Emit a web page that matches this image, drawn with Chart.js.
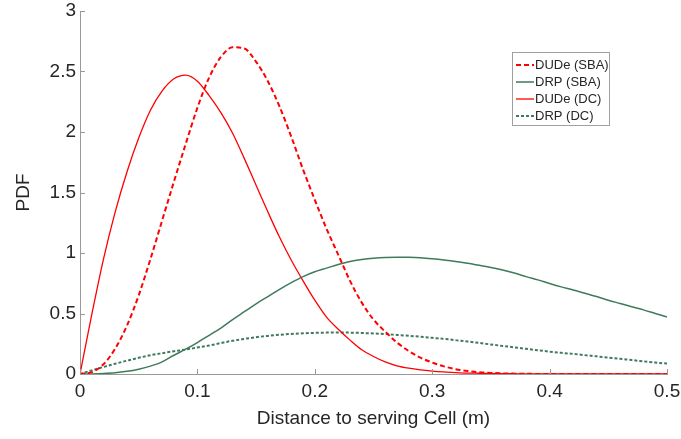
<!DOCTYPE html>
<html>
<head>
<meta charset="utf-8">
<script src="https://cdn.jsdelivr.net/npm/chart.js@4/dist/chart.umd.min.js"></script>
<style>
  html, body { margin: 0; padding: 0; background: #fff; }
  #wrap { width: 681px; height: 439px; }
</style>
</head>
<body>
<div id="wrap"><canvas id="myChart" width="681" height="439"></canvas></div>
<script>
// distance values (m)
const distances = [0, 0.01, 0.02, 0.03, 0.04, 0.05, 0.06, 0.07, 0.08, 0.09,
  0.10, 0.11, 0.12, 0.13, 0.14, 0.15, 0.16, 0.17, 0.18, 0.19,
  0.20, 0.21, 0.22, 0.23, 0.24, 0.25, 0.26, 0.27, 0.28, 0.29,
  0.30, 0.31, 0.32, 0.33, 0.34, 0.35, 0.36, 0.37, 0.38, 0.39,
  0.40, 0.41, 0.42, 0.43, 0.44, 0.45, 0.46, 0.47, 0.48, 0.49, 0.50];

const dudeSba = [0, 0.015, 0.08, 0.21, 0.40, 0.65, 0.95, 1.27, 1.59, 1.90,
  2.20, 2.45, 2.62, 2.70, 2.69, 2.58, 2.42, 2.21, 1.96, 1.69,
  1.44, 1.20, 0.985, 0.77, 0.59, 0.45, 0.35, 0.26, 0.19, 0.135,
  0.095, 0.063, 0.04, 0.025, 0.015, 0.009, 0.005, 0.003, 0.0015, 0.0007,
  0, 0, 0, 0, 0, 0, 0, 0, 0, 0, 0];

const drpSba = [0, 0.001, 0.004, 0.01, 0.022, 0.04, 0.065, 0.10, 0.155, 0.205,
  0.26, 0.32, 0.38, 0.45, 0.515, 0.58, 0.64, 0.70, 0.755, 0.805,
  0.845, 0.875, 0.905, 0.93, 0.946, 0.957, 0.963, 0.965, 0.964, 0.96,
  0.952, 0.942, 0.93, 0.915, 0.898, 0.88, 0.86, 0.835, 0.805, 0.778,
  0.748, 0.72, 0.695, 0.668, 0.64, 0.61, 0.583, 0.556, 0.53, 0.50, 0.471];

const dudeDc = [0, 0.49, 0.95, 1.34, 1.67, 1.95, 2.18, 2.34, 2.44, 2.47,
  2.42, 2.30, 2.16, 1.99, 1.78, 1.56, 1.34, 1.13, 0.94, 0.77,
  0.61, 0.47, 0.37, 0.28, 0.20, 0.145, 0.10, 0.068, 0.048, 0.034,
  0.024, 0.017, 0.012, 0.008, 0.006, 0.004, 0.003, 0.002, 0.001, 0.0005,
  0, 0, 0, 0, 0, 0, 0, 0, 0, 0, 0];

const drpDc = [0, 0.03, 0.058, 0.085, 0.11, 0.134, 0.155, 0.172, 0.188, 0.202,
  0.219, 0.235, 0.256, 0.275, 0.29, 0.304, 0.315, 0.324, 0.331, 0.336,
  0.340, 0.342, 0.343, 0.342, 0.339, 0.335, 0.330, 0.323, 0.316, 0.308,
  0.299, 0.290, 0.280, 0.269, 0.257, 0.244, 0.232, 0.220, 0.208, 0.196,
  0.185, 0.175, 0.166, 0.156, 0.146, 0.136, 0.126, 0.115, 0.105, 0.095, 0.086];

const seriesNames = ['DUDe (SBA)', 'DRP (SBA)', 'DUDe (DC)', 'DRP (DC)'];

const RED = '#ff0000';
const GREEN = '#3f7a5c';
const FONT = '"Liberation Sans", Arial, Helvetica, sans-serif';

function points(vals) {
    return distances.map((d, i) => ({ x: d, y: vals[i] }));
}

// inward tick marks like the original figure
const innerTicks = {
    id: 'innerTicks',
    afterDatasetsDraw(chart) {
        const ctx = chart.ctx;
        const xs = chart.scales.x;
        const ys = chart.scales.y;
        const a = chart.chartArea;
        ctx.save();
        ctx.strokeStyle = '#999';
        ctx.lineWidth = 1;
        ctx.beginPath();
        for (let t of xs.ticks) {
            const px = Math.round(xs.getPixelForValue(t.value)) + 0.5;
            ctx.moveTo(px, a.bottom);
            ctx.lineTo(px, a.bottom - 5);
        }
        for (let t of ys.ticks) {
            const py = Math.round(ys.getPixelForValue(t.value)) + 0.5;
            ctx.moveTo(a.left, py);
            ctx.lineTo(a.left + 5, py);
        }
        ctx.stroke();
        ctx.restore();
    }
};

// boxed legend inside the plot, upper right
const boxLegend = {
    id: 'boxLegend',
    afterDraw(chart) {
        const ctx = chart.ctx;
        const left = 512, top = 52, w = 97, h = 73;
        ctx.save();
        ctx.fillStyle = '#fff';
        ctx.fillRect(left, top, w, h);
        ctx.strokeStyle = '#a0a0a0';
        ctx.lineWidth = 1;
        ctx.strokeRect(left + 0.5, top + 0.5, w, h);
        ctx.font = '13px ' + FONT;
        ctx.textBaseline = 'middle';
        chart.data.datasets.forEach((ds, i) => {
            const y = top + 13 + i * 17;
            ctx.strokeStyle = ds.borderColor;
            ctx.lineWidth = ds.borderWidth;
            ctx.setLineDash(ds.borderDash || []);
            ctx.beginPath();
            ctx.moveTo(left + 4, y);
            ctx.lineTo(left + 22, y);
            ctx.stroke();
            ctx.setLineDash([]);
            ctx.fillStyle = '#262626';
            ctx.fillText(ds.label, left + 23, y);
        });
        ctx.restore();
    }
};

const ctx = document.getElementById('myChart').getContext('2d');
new Chart(ctx, {
    type: 'line',
    data: {
        datasets: [
            {
                label: seriesNames[0],
                data: points(dudeSba),
                borderColor: RED,
                borderWidth: 2,
                borderDash: [5, 3]
            },
            {
                label: seriesNames[1],
                data: points(drpSba),
                borderColor: GREEN,
                borderWidth: 1.5
            },
            {
                label: seriesNames[2],
                data: points(dudeDc),
                borderColor: RED,
                borderWidth: 1.3
            },
            {
                label: seriesNames[3],
                data: points(drpDc),
                borderColor: GREEN,
                borderWidth: 2,
                borderDash: [3, 2]
            }
        ]
    },
    options: {
        responsive: false,
        animation: false,
        cubicInterpolationMode: 'monotone',
        pointRadius: 0,
        pointHoverRadius: 0,
        layout: { padding: { top: 11, right: 14 } },
        plugins: {
            legend: { display: false },
            tooltip: { enabled: false }
        },
        scales: {
            x: {
                type: 'linear',
                min: 0,
                max: 0.5,
                afterFit(s) {
                    s.height = 65;
                    s.paddingLeft = 0;
                    s.paddingRight = 0;
                },
                ticks: {
                    stepSize: 0.1,
                    padding: 6,
                    color: '#262626',
                    font: { family: FONT, size: 19 },
                    callback: (v) => String(Math.round(v * 10) / 10)
                },
                grid: { drawOnChartArea: false, drawTicks: false },
                border: { color: '#999' },
                title: {
                    display: true,
                    text: 'Distance to serving Cell (m)',
                    color: '#262626',
                    font: { family: FONT, size: 19 },
                    padding: { top: 0, bottom: 9 }
                }
            },
            y: {
                min: 0,
                max: 3,
                afterFit(s) {
                    s.width = 80;
                    s.paddingTop = 0;
                    s.paddingBottom = 0;
                },
                ticks: {
                    stepSize: 0.5,
                    padding: 4,
                    color: '#262626',
                    font: { family: FONT, size: 19 },
                    callback: (v) => String(Math.round(v * 10) / 10)
                },
                grid: { drawOnChartArea: false, drawTicks: false },
                border: { color: '#999' },
                title: {
                    display: true,
                    text: 'PDF',
                    color: '#262626',
                    font: { family: FONT, size: 19 },
                    padding: { top: 12, bottom: 0 }
                }
            }
        }
    },
    plugins: [innerTicks, boxLegend]
});
</script>
</body>
</html>
